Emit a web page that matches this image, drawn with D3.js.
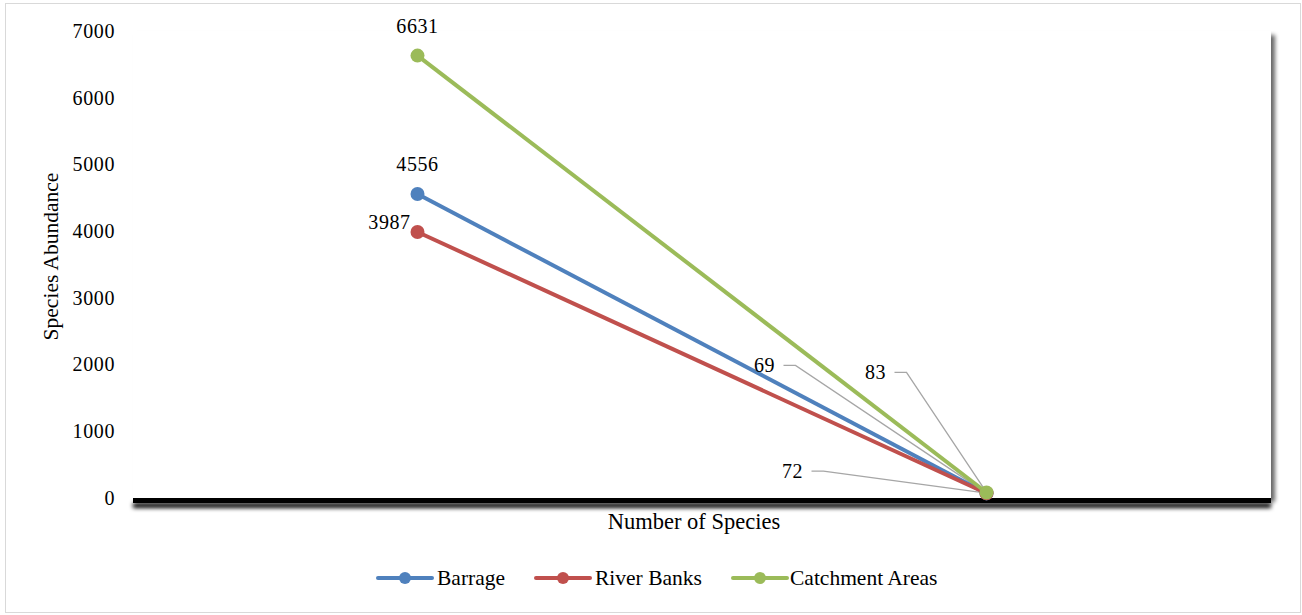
<!DOCTYPE html>
<html>
<head>
<meta charset="utf-8">
<script src="https://cdn.jsdelivr.net/npm/d3@7"></script>
<style>
  html, body { margin: 0; padding: 0; background: #fff; }
  svg { display: block; }
  text { font-family: "Liberation Serif", "Times New Roman", serif; fill: #000; }
</style>
</head>
<body>
<svg id="chart" width="1302" height="615"></svg>
<script>
// Sampling points (two positions along the x axis, unlabeled)
const categories = ["A", "B"];
const seriesNames = ["Barrage", "River Banks", "Catchment Areas"];
const barrage = [4556, 69];
const riverBanks = [3987, 72];
const catchmentAreas = [6631, 83];
const yTicks = [0, 1000, 2000, 3000, 4000, 5000, 6000, 7000];
const colors = ["#4f81bd", "#c0504d", "#9bbb59"];

const series = [
  { name: seriesNames[0], values: barrage, color: colors[0] },
  { name: seriesNames[1], values: riverBanks, color: colors[1] },
  { name: seriesNames[2], values: catchmentAreas, color: colors[2] }
];

// Label placement relative to each point: [dx, dy] for the text centre,
// and whether a leader line is drawn back to the point.
const labelPlacement = [
  [[0, -30, false], [-222, -128, true]],
  [[-28, -10, false], [-194, -22, true]],
  [[0, -30, false], [-111, -120, true]]
];

const svg = d3.select("#chart");
const m = { left: 133, right: 1271, top: 31, bottom: 498 };

// outer frame
svg.append("rect").attr("x", 5.5).attr("y", 3.5).attr("width", 1295).attr("height", 609)
  .attr("fill", "#fff").attr("stroke", "#d9d9d9").attr("stroke-width", 1);

const defs = svg.append("defs");
const f1 = defs.append("filter").attr("id", "plotShadow")
  .attr("x", "-5%").attr("y", "-5%").attr("width", "110%").attr("height", "115%");
f1.append("feGaussianBlur").attr("in", "SourceAlpha").attr("stdDeviation", 2).attr("result", "b");
f1.append("feOffset").attr("in", "b").attr("dx", 4).attr("dy", 4).attr("result", "o");
f1.append("feComponentTransfer").attr("in", "o").attr("result", "o2")
  .append("feFuncA").attr("type", "linear").attr("slope", 0.6);
const mg1 = f1.append("feMerge");
mg1.append("feMergeNode").attr("in", "o2");
mg1.append("feMergeNode").attr("in", "SourceGraphic");

const f2 = defs.append("filter").attr("id", "axisShadow")
  .attr("x", "-2%").attr("y", "-200%").attr("width", "104%").attr("height", "500%");
f2.append("feGaussianBlur").attr("in", "SourceAlpha").attr("stdDeviation", 2.2).attr("result", "b");
f2.append("feOffset").attr("in", "b").attr("dx", 0).attr("dy", 5).attr("result", "o");
const mg2 = f2.append("feMerge");
mg2.append("feMergeNode").attr("in", "o");
mg2.append("feMergeNode").attr("in", "SourceGraphic");

const f3 = defs.append("filter").attr("id", "yShadow")
  .attr("x", "-200%").attr("y", "-5%").attr("width", "600%").attr("height", "110%");
f3.append("feGaussianBlur").attr("in", "SourceAlpha").attr("stdDeviation", 1.5).attr("result", "b");
f3.append("feOffset").attr("in", "b").attr("dx", 3).attr("dy", 0).attr("result", "o");
f3.append("feComponentTransfer").attr("in", "o").attr("result", "o2")
  .append("feFuncA").attr("type", "linear").attr("slope", 0.3);
const mg3 = f3.append("feMerge");
mg3.append("feMergeNode").attr("in", "o2");
mg3.append("feMergeNode").attr("in", "SourceGraphic");

const x = d3.scaleBand().domain(categories).range([m.left, m.right]);
const y = d3.scaleLinear().domain([0, 7000]).range([m.bottom, m.top]);
const cx = c => x(c) + x.bandwidth() / 2;

// plot area with drop shadow
svg.append("rect").attr("x", m.left).attr("y", m.top)
  .attr("width", m.right - m.left).attr("height", m.bottom - m.top)
  .attr("fill", "#fff").attr("filter", "url(#plotShadow)");

// y axis
const yAxis = d3.axisLeft(y).tickValues(yTicks).tickSize(0).tickPadding(18).tickFormat(d3.format("d"));
const gy = svg.append("g").attr("transform", `translate(${m.left},0)`).call(yAxis);
gy.select(".domain").remove();
gy.selectAll("text").style("font-size", "20px").style("font-family", "Liberation Serif").attr("letter-spacing", "0.6");
svg.append("line").attr("x1", m.left).attr("x2", m.left).attr("y1", m.top).attr("y2", m.bottom)
  .attr("stroke", "#000").attr("stroke-width", 2).attr("filter", "url(#yShadow)");

// x axis (heavy bar with shadow)
svg.append("rect").attr("x", m.left).attr("y", m.bottom)
  .attr("width", m.right - m.left).attr("height", 5)
  .attr("fill", "#000").attr("filter", "url(#axisShadow)");

// axis titles
svg.append("text").attr("transform", `translate(58,${(m.top + m.bottom) / 2 - 8}) rotate(-90)`)
  .attr("text-anchor", "middle").style("font-size", "21.5px").text("Species Abundance");
svg.append("text").attr("x", (m.left + m.right) / 2 - 8).attr("y", 529)
  .attr("text-anchor", "middle").style("font-size", "22.5px").text("Number of Species");

// leader lines (drawn beneath the series)
series.forEach((s, si) => {
  s.values.forEach((v, i) => {
    const p = labelPlacement[si][i];
    if (!p[2]) return;
    const px = cx(categories[i]), py = y(v);
    const lx = px + p[0], ly = py + p[1];
    svg.append("path")
      .attr("d", `M${lx + 19},${ly} L${lx + 31},${ly} L${px},${py}`)
      .attr("fill", "none").attr("stroke", "#a6a6a6").attr("stroke-width", 1.3);
  });
});

// series lines and markers
const line = d3.line().x((d, i) => cx(categories[i])).y(d => y(d));
series.forEach(s => {
  svg.append("path").datum(s.values).attr("d", line)
    .attr("fill", "none").attr("stroke", s.color).attr("stroke-width", 4);
});
series.forEach(s => {
  svg.selectAll(null).data(s.values).enter().append("circle")
    .attr("cx", (d, i) => cx(categories[i])).attr("cy", d => y(d)).attr("r", 7)
    .attr("fill", s.color);
});

// data labels
series.forEach((s, si) => {
  s.values.forEach((v, i) => {
    const p = labelPlacement[si][i];
    svg.append("text")
      .attr("x", cx(categories[i]) + p[0]).attr("y", y(v) + p[1])
      .attr("text-anchor", "middle").attr("dominant-baseline", "central")
      .attr("letter-spacing", "0.6")
      .style("font-size", "20px").text(v);
  });
});

// legend
const legendItems = [
  { x: 378, textX: 437 },
  { x: 536, textX: 595 },
  { x: 733, textX: 790 }
];
const ly = 578;
series.forEach((s, i) => {
  const g = svg.append("g");
  g.append("line").attr("x1", legendItems[i].x).attr("x2", legendItems[i].x + 54)
    .attr("y1", ly).attr("y2", ly).attr("stroke", s.color).attr("stroke-width", 4)
    .attr("stroke-linecap", "round");
  g.append("circle").attr("cx", legendItems[i].x + 27).attr("cy", ly).attr("r", 6).attr("fill", s.color);
  g.append("text").attr("x", legendItems[i].textX).attr("y", ly)
    .attr("dominant-baseline", "central").style("font-size", "21.5px").text(s.name);
});
</script>
</body>
</html>
